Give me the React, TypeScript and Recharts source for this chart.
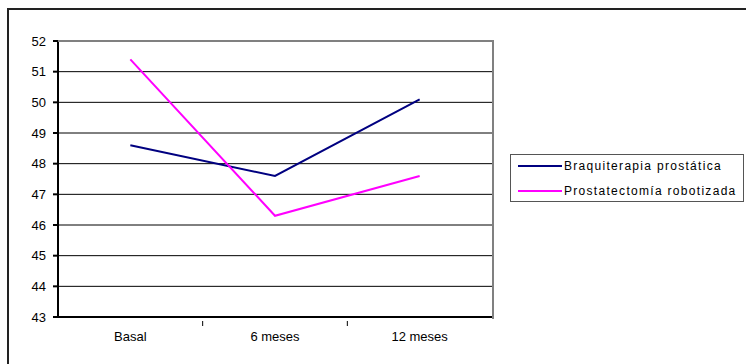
import React from "react";
import {
  LineChart,
  Line,
  XAxis,
  YAxis,
  CartesianGrid,
} from "recharts";

const periods = ["Basal", "6 meses", "12 meses"];
const braquiterapia = [48.6, 47.6, 50.1];
const prostatectomia = [51.4, 46.3, 47.6];
const yTicks = [43, 44, 45, 46, 47, 48, 49, 50, 51, 52];

const seriesInfo = [
  { key: "braq", name: "Braquiterapia prostática", color: "#000080" },
  { key: "prost", name: "Prostatectomía robotizada", color: "#FF00FF" },
];

const data = periods.map((p, i) => ({
  period: p,
  braq: braquiterapia[i],
  prost: prostatectomia[i],
}));

const FONT = "'Liberation Sans', Arial, sans-serif";
const PLOT_W = 434;
const STEP = PLOT_W / periods.length;

// category label plus a tick mark on the boundary between categories
const CategoryTick = (props: any) => {
  const { x, y, payload, index } = props;
  return (
    <g>
      {index < periods.length - 1 && (
        <line
          x1={x + STEP / 2}
          x2={x + STEP / 2}
          y1={y - 4}
          y2={y + 1}
          stroke="#000"
          strokeWidth={1}
        />
      )}
      <text
        x={x}
        y={y + 16}
        textAnchor="middle"
        fontFamily={FONT}
        fontSize={13}
        fill="#000"
      >
        {payload.value}
      </text>
    </g>
  );
};

const LegendBox = () => (
  <div
    style={{
      position: "absolute",
      left: 510,
      top: 154,
      border: "1px solid #555",
      background: "#fff",
      width: 234,
      height: 48,
      boxSizing: "border-box",
      padding: "2px 0 0 7px",
      fontFamily: FONT,
      fontSize: 12,
      color: "#000",
    }}
  >
    {seriesInfo.map((s) => (
      <div
        key={s.key}
        style={{ display: "flex", alignItems: "center", height: 17, marginBottom: 8 }}
      >
        <div style={{ width: 44, height: 2, background: s.color, marginRight: 2 }} />
        <span style={{ letterSpacing: 1.3, whiteSpace: "nowrap" }}>{s.name}</span>
      </div>
    ))}
  </div>
);

export default function App() {
  return (
    <div
      style={{
        position: "absolute",
        left: 0,
        top: 0,
        width: 746,
        height: 364,
        overflow: "hidden",
        background: "#fff",
      }}
    >
      <div
        style={{
          position: "absolute",
          left: 7,
          top: 8,
          width: 800,
          height: 400,
          border: "2px solid #222",
        }}
      />
      <LineChart
        width={746}
        height={364}
        data={data}
        margin={{ top: 41, right: 254, bottom: 17, left: 8 }}
      >
        <CartesianGrid vertical={false} stroke="#000" strokeWidth={1} />
        <XAxis
          dataKey="period"
          height={30}
          padding={{ left: STEP / 2, right: STEP / 2 }}
          stroke="#000"
          strokeWidth={2}
          tickLine={false}
          tick={<CategoryTick />}
        />
        <YAxis
          domain={[43, 52]}
          ticks={yTicks}
          width={50}
          stroke="#000"
          strokeWidth={2}
          tickSize={5}
          tickMargin={7}
          tick={{ fontFamily: FONT, fontSize: 13, fill: "#000" }}
        />
        {seriesInfo.map((s) => (
          <Line
            key={s.key}
            type="linear"
            dataKey={s.key}
            name={s.name}
            stroke={s.color}
            strokeWidth={2}
            dot={false}
            isAnimationActive={false}
          />
        ))}
      </LineChart>
      <div
        style={{
          position: "absolute",
          left: 58,
          top: 40,
          width: 434,
          height: 277,
          borderTop: "2px solid #808080",
          borderRight: "2px solid #808080",
          pointerEvents: "none",
        }}
      />
      <LegendBox />
    </div>
  );
}
